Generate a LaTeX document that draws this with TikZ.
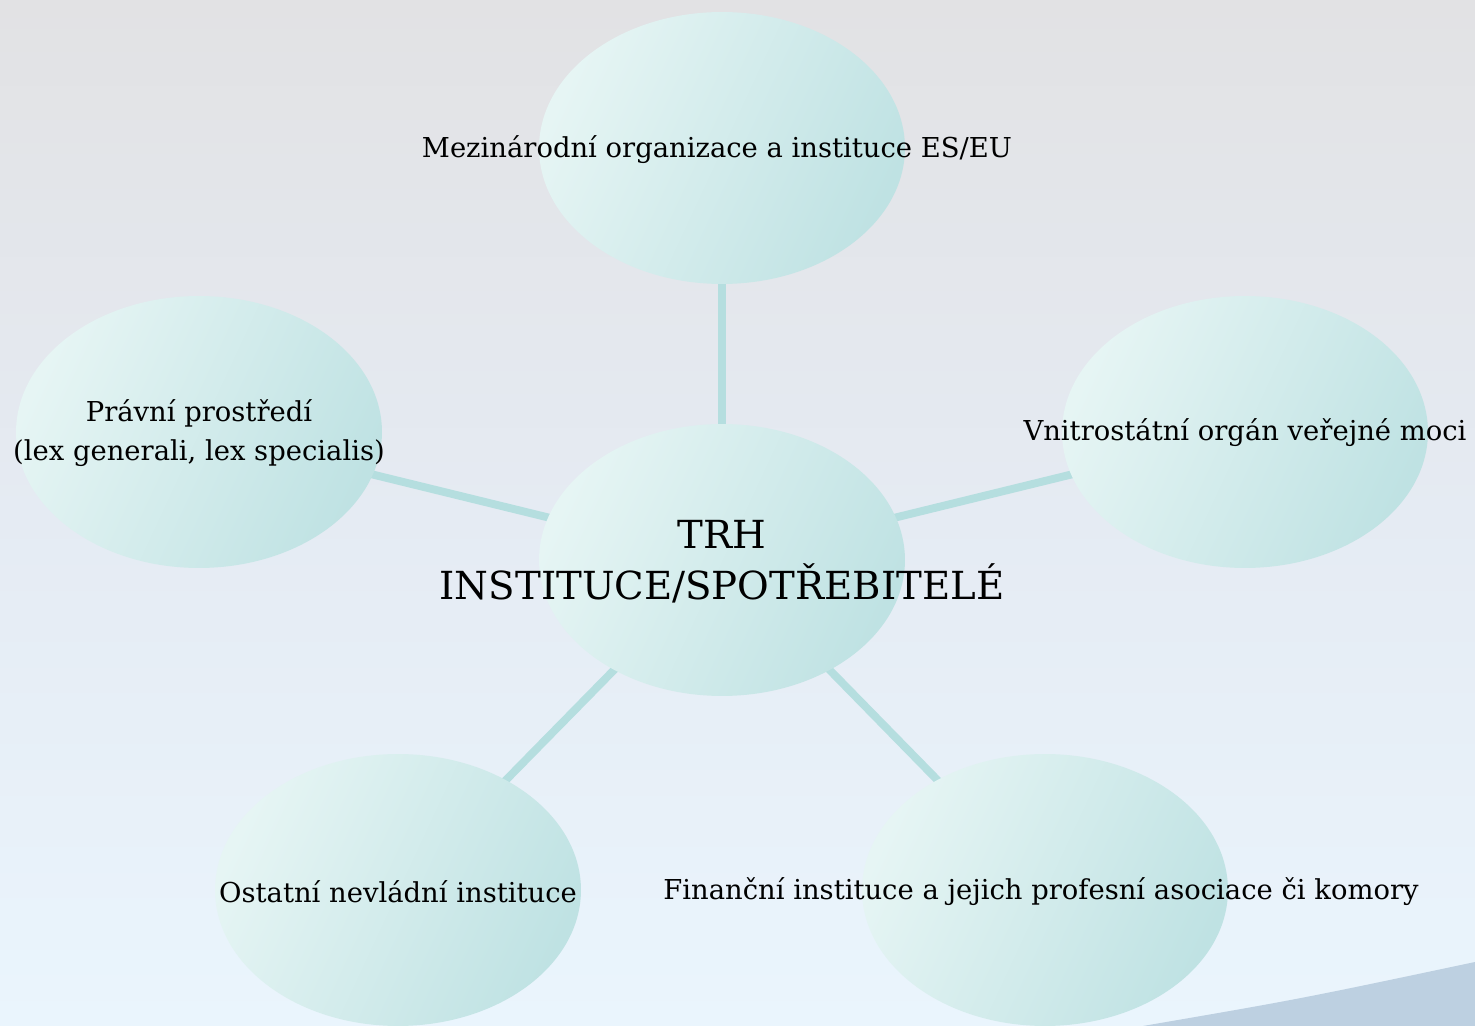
\documentclass[tikz,border=0pt]{standalone}
\usepackage{fontspec}
\setmainfont{DejaVu Serif}
\usetikzlibrary{shapes.geometric}
\definecolor{bgtop}{HTML}{E2E2E4}
\definecolor{bgmid}{HTML}{E5EBF3}
\definecolor{bgbot}{HTML}{EAF5FD}
\definecolor{ellA}{HTML}{E6F5F4}
\definecolor{ellB}{HTML}{BFE2E3}
\definecolor{connc}{HTML}{B5DEDF}
\definecolor{swoosh}{HTML}{BDD0E1}
\tikzset{
  bubble/.style={ellipse, draw=none, inner sep=0pt, minimum width=7.32cm, minimum height=5.44cm,
    left color=ellA, right color=ellB, shading angle=65},
  conn/.style={draw=connc, line width=4.5pt},
  lbl/.style={font=\fontsize{15.6}{22}\selectfont, align=center, text=black},
  biglbl/.style={font=\fontsize{22}{29}\selectfont, align=center, text=black}
}
\begin{document}
\begin{tikzpicture}[x=0.02cm, y=-0.02cm]
\useasboundingbox (0,0) rectangle (1475,1026);
\shade[top color=bgtop, bottom color=bgbot, middle color=bgmid] (0,0) rectangle (1475,1026);
\fill[swoosh] (1143,1026) .. controls (1300,999) .. (1475,962) -- (1475,1026) -- cycle;
% centres
\coordinate (pc) at (722,560);
\coordinate (pt) at (722,148);
\coordinate (pl) at (199,432);
\coordinate (pr) at (1245,432);
\coordinate (pbl) at (398,890);
\coordinate (pbr) at (1045,890);
% connectors
\draw[conn] (pc) -- (pt);
\draw[conn] (pc) -- (pl);
\draw[conn] (pc) -- (pr);
\draw[conn] (pc) -- (pbl);
\draw[conn] (pc) -- (pbr);
% bubbles
\node[bubble] (t) at (pt) {};
\node[bubble] (l) at (pl) {};
\node[bubble] (r) at (pr) {};
\node[bubble] (bl) at (pbl) {};
\node[bubble] (br) at (pbr) {};
\node[bubble] (c) at (pc) {};
% labels
\node[lbl] (tt) at (717,150) {Mezinárodní organizace a instituce ES/EU};
\node[lbl] (lt) at (199,433) {Právní prostředí\\(lex generali, lex specialis)};
\node[lbl] (rt) at (1245,433) {Vnitrostátní orgán veřejné moci};
\node[biglbl] (ct) at (722,562) {TRH\\INSTITUCE/SPOTŘEBITELÉ};
\node[lbl] (blt) at (398,892) {Ostatní nevládní instituce};
\node[lbl] (brt) at (1041,892) {Finanční instituce a jejich profesní asociace či komory};
\end{tikzpicture}
\end{document}
